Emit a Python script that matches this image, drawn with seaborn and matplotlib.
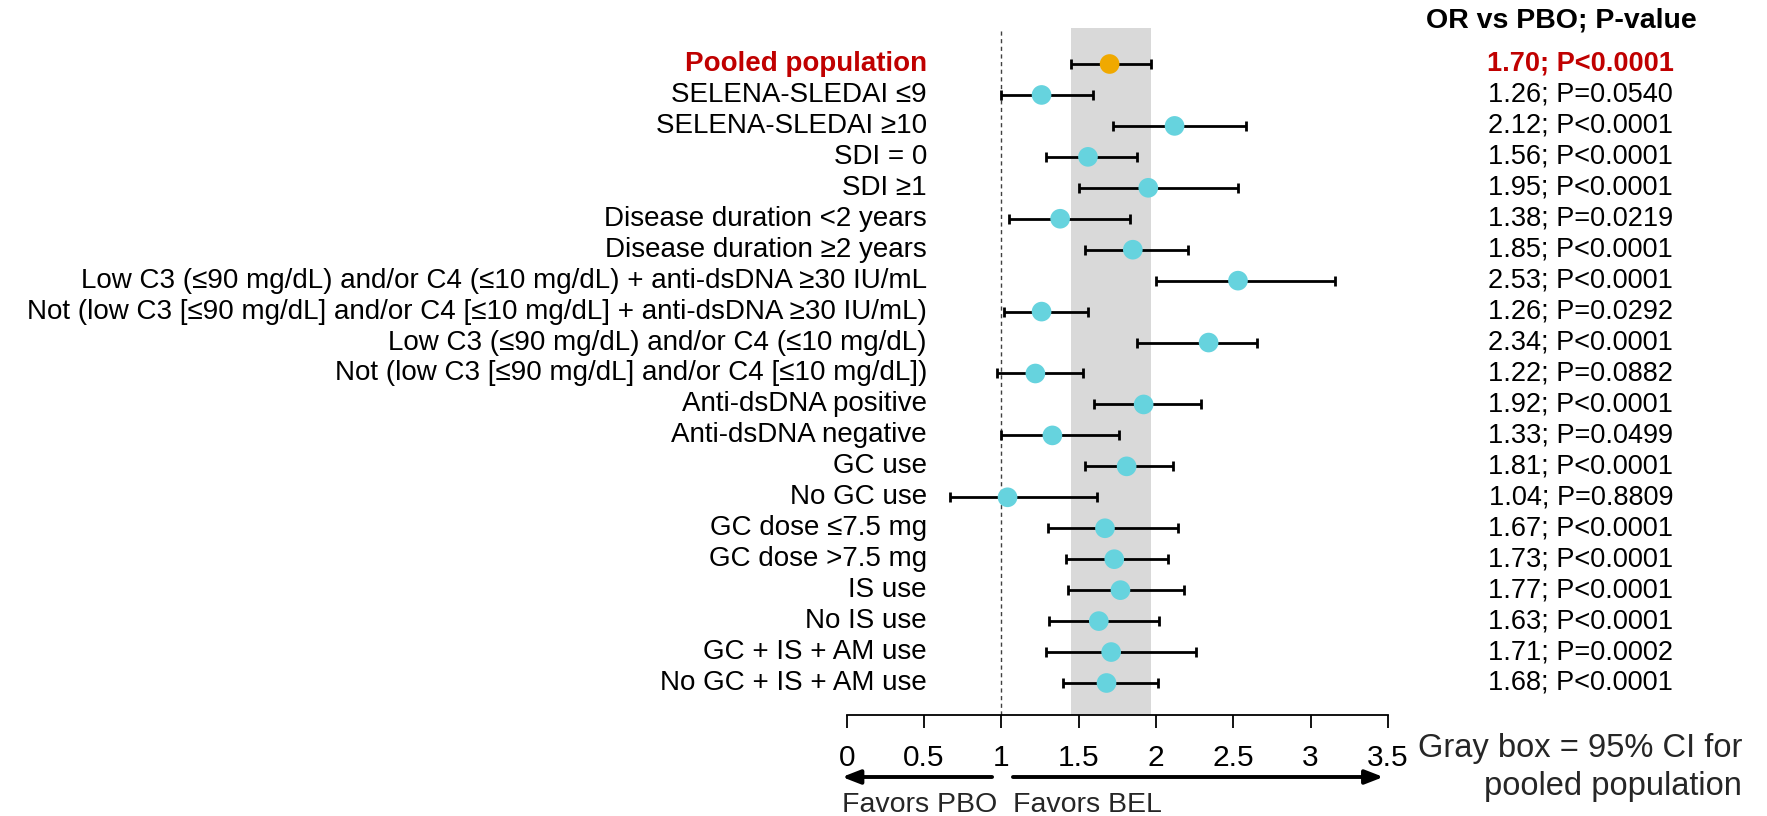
import matplotlib
matplotlib.use("Agg")
import matplotlib.pyplot as plt
import seaborn as sns
import pandas as pd
import numpy as np

# ---------------- data ----------------
labels = [
    "Pooled population",
    "SELENA-SLEDAI \u22649",
    "SELENA-SLEDAI \u226510",
    "SDI = 0",
    "SDI \u22651",
    "Disease duration <2 years",
    "Disease duration \u22652 years",
    "Low C3 (\u226490 mg/dL) and/or C4 (\u226410 mg/dL) + anti-dsDNA \u226530 IU/mL",
    "Not (low C3 [\u226490 mg/dL] and/or C4 [\u226410 mg/dL] + anti-dsDNA \u226530 IU/mL)",
    "Low C3 (\u226490 mg/dL) and/or C4 (\u226410 mg/dL)",
    "Not (low C3 [\u226490 mg/dL] and/or C4 [\u226410 mg/dL])",
    "Anti-dsDNA positive",
    "Anti-dsDNA negative",
    "GC use",
    "No GC use",
    "GC dose \u22647.5 mg",
    "GC dose >7.5 mg",
    "IS use",
    "No IS use",
    "GC + IS + AM use",
    "No GC + IS + AM use",
]
odds_ratio = [1.70, 1.26, 2.12, 1.56, 1.95, 1.38, 1.85, 2.53, 1.26, 2.34, 1.22,
              1.92, 1.33, 1.81, 1.04, 1.67, 1.73, 1.77, 1.63, 1.71, 1.68]
ci_low = [1.45, 1.00, 1.72, 1.29, 1.50, 1.05, 1.54, 2.00, 1.02, 1.88, 0.97,
          1.60, 1.00, 1.54, 0.67, 1.30, 1.42, 1.43, 1.31, 1.29, 1.40]
ci_high = [1.97, 1.59, 2.58, 1.88, 2.53, 1.83, 2.21, 3.16, 1.56, 2.65, 1.53,
           2.29, 1.76, 2.11, 1.62, 2.14, 2.08, 2.18, 2.02, 2.26, 2.01]
p_text = ["P<0.0001", "P=0.0540", "P<0.0001", "P<0.0001", "P<0.0001", "P=0.0219",
          "P<0.0001", "P<0.0001", "P=0.0292", "P<0.0001", "P=0.0882", "P<0.0001",
          "P=0.0499", "P<0.0001", "P=0.8809", "P<0.0001", "P<0.0001", "P<0.0001",
          "P<0.0001", "P=0.0002", "P<0.0001"]
group = ["Pooled"] + ["Subgroup"] * (len(labels) - 1)
pooled_ci = (1.45, 1.97)
xticks = [0, 0.5, 1, 1.5, 2, 2.5, 3, 3.5]
xticklabels = ["0", "0.5", "1", "1.5", "2", "2.5", "3", "3.5"]

# ---------------- style ----------------
sns.set_theme(style="white")
plt.rcParams['font.family'] = ['Liberation Sans', 'DejaVu Sans']

RED = "#C00000"
ORANGE = "#F0A900"
CYAN = "#66D3DE"
GRAY = "#D9D9D9"

W, H = 1767, 816
fig = plt.figure(figsize=(W / 100, H / 100), dpi=100)

x0_px, x35_px = 846.7, 1388.0
top_px, spine_px = 28.0, 715.0
row0_px, row_step = 64.0, 30.95
ax = fig.add_axes([x0_px / W, 1 - spine_px / H, (x35_px - x0_px) / W, (spine_px - top_px) / H])

n = len(labels)
df = pd.DataFrame({
    "label": labels, "OR": odds_ratio, "lo": ci_low, "hi": ci_high,
    "row": np.arange(n), "group": group,
})

ax.set_xlim(0, 3.5)
ylo = (top_px - row0_px) / row_step
yhi = (spine_px - row0_px) / row_step
ax.set_ylim(yhi, ylo)

# gray box + reference line
ax.axvspan(pooled_ci[0], pooled_ci[1], color=GRAY, zorder=0, lw=0)
ax.axvline(1, color="#404040", ls=(0, (3, 2.5)), lw=1.0, zorder=1)

# error bars
ax.errorbar(df["OR"], df["row"],
            xerr=[df["OR"] - df["lo"], df["hi"] - df["OR"]],
            fmt="none", ecolor="black", elinewidth=2.0, capsize=3.8, capthick=2.0, zorder=2)

sns.scatterplot(data=df, x="OR", y="row", hue="group",
                palette={"Pooled": ORANGE, "Subgroup": CYAN},
                s=200, edgecolor="none", legend=False, zorder=3, ax=ax)

# axes styling
for s in ["top", "right", "left"]:
    ax.spines[s].set_visible(False)
ax.spines["bottom"].set_color("black")
ax.spines["bottom"].set_linewidth(1.3)
ax.set_yticks([])
ax.set_xticks(xticks)
ax.set_xticklabels(xticklabels, fontsize=21.5)
ax.tick_params(axis="x", direction="out", length=9, width=1.3, pad=12, colors="black", bottom=True)
ax.set_xlabel("")
ax.set_ylabel("")

# row labels (left) and OR/P text (right)
label_x = (927 - x0_px) / 154.7
text_x = (1581 - x0_px) / 154.7
for i, (lab, orv, p) in enumerate(zip(labels, odds_ratio, p_text)):
    is_pooled = i == 0
    kw = dict(color=RED if is_pooled else "black",
              fontweight="bold" if is_pooled else "normal", clip_on=False, va="center")
    ax.text(label_x, i, lab, ha="right", fontsize=20, **kw)
    ax.text(text_x, i, f"{orv:.2f}; {p}", ha="center", fontsize=19.5, **kw)

fig.text(1561 / W, 1 - 20 / H, "OR vs PBO; P-value", ha="center", va="center",
         fontsize=20.5, fontweight="bold", color="black")

# arrows
arrow_y = 1 - 777 / H
ax.annotate("", xy=(-0.03, arrow_y), xytext=(0.94, arrow_y),
            xycoords=("data", "figure fraction"), textcoords=("data", "figure fraction"),
            arrowprops=dict(arrowstyle="-|>,head_length=0.9,head_width=0.35", lw=2.8, color="black",
                            shrinkA=0, shrinkB=0), annotation_clip=False)
ax.annotate("", xy=(3.47, arrow_y), xytext=(1.075, arrow_y),
            xycoords=("data", "figure fraction"), textcoords=("data", "figure fraction"),
            arrowprops=dict(arrowstyle="-|>,head_length=0.9,head_width=0.35", lw=2.8, color="black",
                            shrinkA=0, shrinkB=0), annotation_clip=False)
fig.text(842 / W, 1 - 812 / H, "Favors PBO", ha="left", va="baseline", fontsize=20.5)
fig.text(1013 / W, 1 - 812 / H, "Favors BEL", ha="left", va="baseline", fontsize=20.5)

fig.text(1742 / W, 1 - 757 / H, "Gray box = 95% CI for", ha="right", va="baseline", fontsize=23.5)
fig.text(1742 / W, 1 - 795 / H, "pooled population", ha="right", va="baseline", fontsize=23.5)

fig.savefig("out.png", dpi=100, facecolor="white")
